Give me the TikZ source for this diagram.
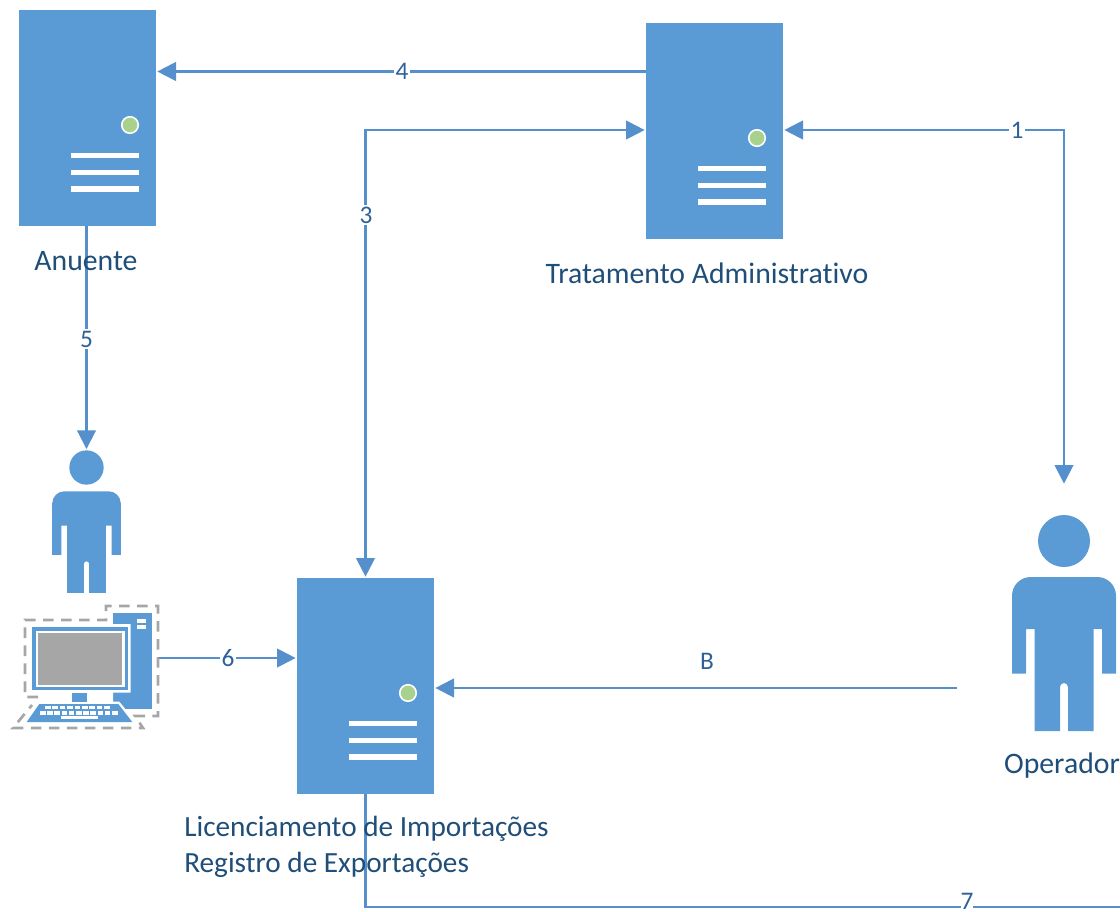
\documentclass[tikz,border=0pt]{standalone}
\usepackage{fontspec}
\setmainfont[RawFeature={-liga;-clig;-dlig}]{Carlito}
\usetikzlibrary{arrows.meta}

\definecolor{boxblue}{HTML}{5B9BD5}
\definecolor{linkblue}{HTML}{5590CC}
\definecolor{textblue}{HTML}{1F4E79}
\definecolor{numblue}{HTML}{2E6099}
\definecolor{ledgreen}{HTML}{A9D18E}
\definecolor{dashgray}{HTML}{A6A6A6}

\tikzset{
  serverbox/.style={fill=boxblue, minimum width=102.75pt, minimum height=162pt, inner sep=0pt, outer sep=0pt},
  link/.style={draw=linkblue, line width=1.6pt},
  tipped/.style={-{Triangle[length=14pt,width=14pt]}, shorten >=1pt},
  bothtipped/.style={{Triangle[length=14pt,width=14pt]}-{Triangle[length=14pt,width=14pt]}, shorten >=1pt, shorten <=1pt},
  caption/.style={text=textblue, font=\fontsize{22.3}{27}\selectfont, inner sep=0pt},
  captionlic/.style={caption, anchor=west, font=\fontsize{21.95}{27}\selectfont},
  num/.style={text=numblue, font=\fontsize{19}{20}\selectfont, inner sep=1pt},
  numgap/.style={num, fill=white}
}

% box parts, placed from the corner of the node
\newcommand{\serverparts}[1]{
  \begin{scope}[shift={(#1.north west)}]
    \filldraw[fill=ledgreen, draw=white, line width=1.2pt] (111,115) circle (6.2pt);
    \foreach \barY in {145.7,162.3,179}
      \fill[white] (52,\barY-2.7) rectangle (120,\barY+2.7);
  \end{scope}
}

% #1 head name, #2 x, #3 y, #4 scale
\newcommand{\person}[4]{
  \node[circle, fill=boxblue, inner sep=0pt, outer sep=0pt, minimum size=#4*39pt] (#1) at (#2,#3) {};
  \begin{scope}[shift={(#2,#3)}, scale=#4]
    \fill[boxblue] (-52,132.5) [rounded corners=#4*14pt] -- (-52,36) -- (52,36) [sharp corners] -- (52,132.5)
      -- (38,132.5) -- (38,88) -- (29.5,88) -- (29.5,190) -- (4,190) [rounded corners=#4*3pt] -- (4,142) -- (-4,142)
      [sharp corners] -- (-4,190) -- (-29.5,190) -- (-29.5,88) -- (-38,88) -- (-38,132.5) -- cycle;
  \end{scope}
}

\begin{document}
\begin{tikzpicture}[x=0.75pt, y=-0.75pt]
  \useasboundingbox (0,0) rectangle (1120,911);

  \node[serverbox] (anuente) at ( 87.5,118) {};
  \node[serverbox] (trat)    at (714.5,131) {};
  \node[serverbox] (lic)     at (365.5,686) {};
  \serverparts{anuente}
  \serverparts{trat}
  \serverparts{lic}

  \person{headan}{86.5}{467.5}{0.66}
  \person{headop}{1064}{541}{1}

  % computer
  \node[inner sep=0pt, outer sep=0pt, minimum width=109.5pt, minimum height=91.5pt] (comp) at (85.5,667) {};
  \draw[dashgray, line width=2pt, dash pattern=on 8pt off 5.5pt] (38,697) -- (25,697) -- (25,620) -- (106,620) -- (106,606)
    -- (158,606) -- (158,716) -- (135,716) -- (143,728) -- (13,728) -- (32,705);
  \fill[boxblue] (113,612.7) rectangle (152.3,709.3);
  \fill[white] (125,708.6) -- (119.3,701.7) -- (113,701.7) -- (113,692.7) -- (130.7,692.7) -- (130.7,624) -- (113,624) -- (113,709.3) -- (125,709.3) -- cycle;
  \fill[white] (137,619) rectangle (145.7,623);
  \fill[white] (137,625) rectangle (145.7,628.7);
  \fill[boxblue] (31.7,626.7) rectangle (128,690);
  \fill[white] (36,631) rectangle (125,686.7);
  \fill[dashgray] (38.3,633.3) rectangle (122.3,685);
  \fill[boxblue] (72,692.7) rectangle (87.3,701.7);
  \fill[boxblue] (39.3,704) -- (118.3,704) -- (132.3,722) -- (26.7,722) -- cycle;
  \foreach \k in {0,...,8}
    \fill[white] (45+\k*7.4,706) rectangle (50.5+\k*7.4,709);
  \foreach \k in {0,...,10}
    \fill[white] (40+\k*7.2,711) rectangle (45.5+\k*7.2,714.5);
  \fill[white] (61,716) rectangle (98,719);

  % labels that sit on a line
  \coordinate (lone)   at (1017,130);
  \coordinate (lthree) at (366,215);
  \coordinate (lfour)  at (402,71.5);
  \coordinate (lfive)  at (86.5,339);
  \coordinate (lsix)   at (228,658);
  \coordinate (bstart) at (957,688);
  \coordinate (sevenend) at (1120,907);
  \coordinate (opertop) at (1064,485);

  \draw[link,bothtipped] (trat.east |- lone) -| (opertop);
  \draw[link,bothtipped] (trat.west |- lone) -| (lic.north);
  \draw[link,tipped] (trat.west |- lfour) -- (anuente.east |- lfour);
  \draw[link,tipped] (anuente.south -| lfive) -- (headan.north);
  \draw[link,tipped] (comp.east |- lsix) -- (lic.west |- lsix);
  \draw[link,tipped] (bstart) -- (lic.east |- bstart);
  \draw[link] (lic.south) |- (sevenend);

  \node[numgap] (one)   at (lone)   {1};
  \node[numgap] (three) at (lthree) {3};
  \node[numgap] (four)  at (lfour)  {4};
  \node[numgap] (five)  at (lfive)  {5};
  \node[numgap] (six)   at (lsix)   {6};
  \node[numgap, inner sep=0pt] (seven) at (967,901) {7};
  \node[num] (lb) at (707,661) {B};

  \node[caption] (capan) at (86,261)   {Anuente};
  \node[caption] (captr) at (707,273)  {Tratamento Administrativo};
  \node[caption] (capop) at (1062,766) {Operador};
  \node[captionlic] (caplic) at (184,829) {Licenciamento de Importações};
  \node[captionlic] (capreg) at (184,865) {Registro de Exportações};
\end{tikzpicture}
\end{document}
